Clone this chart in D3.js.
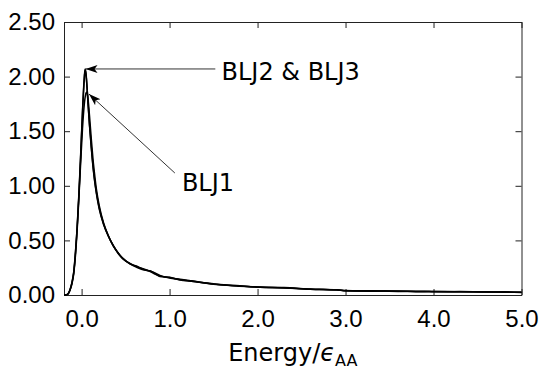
<!DOCTYPE html>
<html>
<head>
<meta charset="utf-8">
<script src="https://cdn.jsdelivr.net/npm/d3@7"></script>
<style>
  body { margin: 0; background: #fff; }
</style>
</head>
<body>
<svg id="chart" width="539" height="370"></svg>
<script>
// energy grid (epsilon_AA units)
var energy = [-0.20, -0.17, -0.15, -0.13, -0.11, -0.09, -0.07, -0.05, -0.03, -0.01,
  0.01, 0.03, 0.04, 0.05, 0.06, 0.07, 0.09, 0.11, 0.13, 0.15, 0.17, 0.20, 0.25, 0.30,
  0.36, 0.42, 0.47, 0.55, 0.64, 0.70, 0.78, 0.84, 0.89, 1.00, 1.12, 1.25, 1.50, 1.76,
  2.03, 2.30, 2.60, 2.90, 3.00, 3.30, 3.60, 3.90, 4.00, 4.30, 4.60, 4.80, 5.00];

var blj1 = [0, 0.003, 0.014, 0.048, 0.10, 0.19, 0.36, 0.60, 0.90, 1.22,
  1.52, 1.74, 1.81, 1.85, 1.86, 1.82, 1.64, 1.43, 1.24, 1.09, 0.96, 0.82, 0.66, 0.55,
  0.45, 0.38, 0.335, 0.285, 0.25, 0.23, 0.22, 0.20, 0.18, 0.155, 0.145, 0.13, 0.098, 0.085,
  0.072, 0.067, 0.052, 0.048, 0.038, 0.040, 0.033, 0.035, 0.030, 0.031, 0.027, 0.029, 0.024];

var blj2 = [0, 0.003, 0.015, 0.05, 0.11, 0.20, 0.38, 0.62, 0.92, 1.28,
  1.66, 1.97, 2.06, 2.02, 1.92, 1.80, 1.56, 1.36, 1.18, 1.04, 0.93, 0.80, 0.65, 0.55,
  0.45, 0.38, 0.33, 0.29, 0.255, 0.24, 0.215, 0.19, 0.175, 0.16, 0.14, 0.125, 0.102, 0.083,
  0.074, 0.065, 0.055, 0.045, 0.040, 0.037, 0.035, 0.032, 0.031, 0.030, 0.028, 0.027, 0.025];

var blj3 = [0, 0.002, 0.014, 0.052, 0.115, 0.21, 0.39, 0.63, 0.94, 1.30,
  1.68, 1.99, 2.07, 2.03, 1.93, 1.79, 1.55, 1.35, 1.17, 1.03, 0.92, 0.79, 0.645, 0.545,
  0.455, 0.375, 0.335, 0.285, 0.26, 0.235, 0.22, 0.195, 0.17, 0.162, 0.137, 0.127, 0.1, 0.086,
  0.071, 0.068, 0.053, 0.047, 0.042, 0.035, 0.036, 0.030, 0.033, 0.029, 0.029, 0.026, 0.026];

var xTicks = [0, 1, 2, 3, 4, 5];
var yTicks = [0, 0.5, 1, 1.5, 2, 2.5];

// annotation arrows: tail -> head, in data units
var notes = [
  {label: "BLJ2 & BLJ3", tail: [1.52, 2.07], head: [0.045, 2.07], text: [1.59, 1.97]},
  {label: "BLJ1", tail: [1.06, 1.117], head: [0.084, 1.84], text: [1.14, 0.952]}
];

var svg = d3.select("#chart"),
  margin = {top: 22, right: 17.5, bottom: 75, left: 64},
  width = +svg.attr("width"),
  height = +svg.attr("height");

var x = d3.scaleLinear()
  .domain([-0.2, 5.0])
  .range([margin.left, width - margin.right]);

var y = d3.scaleLinear()
  .domain([0, 2.5])
  .range([height - margin.bottom, margin.top]);

var axisColor = "#222";

function styleAxis(g) {
  g.attr("font-family", "Liberation Sans");
  g.select(".domain").attr("stroke", axisColor).attr("stroke-width", 1);
  g.selectAll(".tick line").attr("stroke", axisColor).attr("stroke-width", 1);
  g.selectAll(".tick text").attr("font-size", 24).attr("fill", "#000");
}

svg.append("g")
  .attr("transform", `translate(0,${y(0)})`)
  .call(d3.axisBottom(x).tickValues(xTicks).tickFormat(d3.format(".1f"))
    .tickSizeInner(-6).tickSizeOuter(0).tickPadding(15))
  .call(styleAxis);

svg.append("g")
  .attr("transform", `translate(0,${y(2.5)})`)
  .call(d3.axisTop(x).tickValues(xTicks).tickFormat("")
    .tickSizeInner(-6).tickSizeOuter(0))
  .call(styleAxis);

svg.append("g")
  .attr("transform", `translate(${x(-0.2)},0)`)
  .call(d3.axisLeft(y).tickValues(yTicks).tickFormat(d3.format(".2f"))
    .tickSizeInner(-6).tickSizeOuter(0).tickPadding(9))
  .call(styleAxis);

svg.append("g")
  .attr("transform", `translate(${x(5.0)},0)`)
  .call(d3.axisRight(y).tickValues(yTicks).tickFormat("")
    .tickSizeInner(-6).tickSizeOuter(0))
  .call(styleAxis);

// curves
var series = [blj1, blj2, blj3];
var line = d3.line()
  .x((d, i) => x(energy[i]))
  .y(d => y(d))
  .curve(d3.curveMonotoneX);

svg.append("g").selectAll("path")
  .data(series).enter().append("path")
  .attr("d", line)
  .attr("fill", "none")
  .attr("stroke", "#000")
  .attr("stroke-width", 1.5);

// arrowhead
svg.append("defs").append("marker")
  .attr("id", "head")
  .attr("markerUnits", "userSpaceOnUse")
  .attr("viewBox", "0 -5 13 10")
  .attr("refX", 12).attr("refY", 0)
  .attr("markerWidth", 13).attr("markerHeight", 10)
  .attr("orient", "auto")
  .append("path")
  .attr("d", "M0,-4L12,0L0,4L3,0Z")
  .attr("fill", "#000");

svg.append("g").selectAll("line")
  .data(notes).enter().append("line")
  .attr("x1", d => x(d.tail[0])).attr("y1", d => y(d.tail[1]))
  .attr("x2", d => x(d.head[0])).attr("y2", d => y(d.head[1]))
  .attr("stroke", "#333")
  .attr("stroke-width", 1)
  .attr("marker-end", "url(#head)");

svg.append("g").selectAll("text")
  .data(notes).enter().append("text")
  .attr("x", d => x(d.text[0]))
  .attr("y", d => y(d.text[1]))
  .attr("font-family", "DejaVu Sans")
  .attr("font-size", 24)
  .text(d => d.label);

// x axis title
var title = svg.append("text")
  .attr("x", (x(-0.2) + x(5.0)) / 2)
  .attr("y", 361)
  .attr("text-anchor", "middle")
  .attr("font-family", "DejaVu Sans")
  .attr("font-size", 24);
title.append("tspan").text("Energy/");
title.append("tspan").attr("font-style", "italic").text("ϵ");
title.append("tspan").attr("font-size", 16).attr("dy", 5).text("AA");
</script>
</body>
</html>
